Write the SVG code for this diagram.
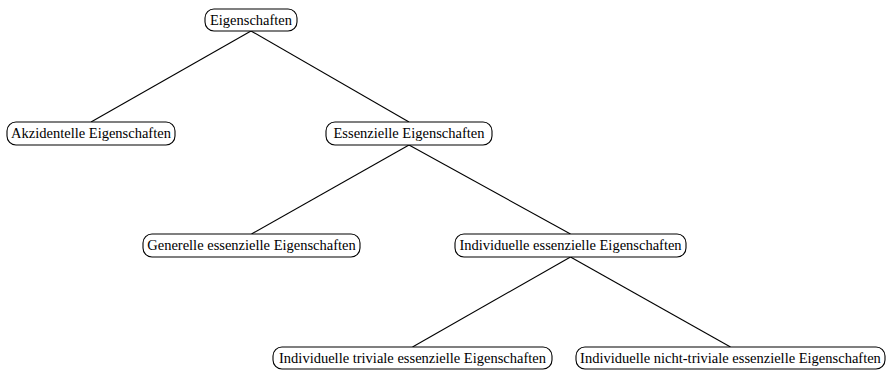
<svg xmlns="http://www.w3.org/2000/svg" width="886" height="371" viewBox="0 0 886 371">
<style>
.box{fill:#fff;stroke:#000;stroke-width:1.1}
.lbl{font-family:"Liberation Serif","Times New Roman",serif;font-size:14.5px;fill:#000;text-anchor:middle}
.edge{stroke:#000;stroke-width:1.1;fill:none}
</style>
<rect width="886" height="371" fill="#fff"/>
<g id="connectors">
<line class="edge" x1="251" y1="31" x2="91" y2="122"/>
<line class="edge" x1="251" y1="31" x2="409" y2="122"/>
<line class="edge" x1="409" y1="145" x2="251.5" y2="234"/>
<line class="edge" x1="409" y1="145" x2="570.5" y2="234"/>
<line class="edge" x1="570.5" y1="257" x2="412.5" y2="347"/>
<line class="edge" x1="570.5" y1="257" x2="730.5" y2="347"/>
</g>
<g id="n-eigenschaften">
<rect class="box" x="205" y="9" width="92" height="22" rx="9"/>
<text class="lbl" x="251" y="24.5">Eigenschaften</text>
</g>
<g id="n-akzidentelle">
<rect class="box" x="7" y="122" width="168" height="23" rx="9"/>
<text class="lbl" x="91" y="138">Akzidentelle Eigenschaften</text>
</g>
<g id="n-essenzielle">
<rect class="box" x="326" y="122" width="166" height="23" rx="9"/>
<text class="lbl" x="409" y="138">Essenzielle Eigenschaften</text>
</g>
<g id="n-generelle">
<rect class="box" x="143" y="234" width="217" height="23" rx="9"/>
<text class="lbl" x="251.5" y="250">Generelle essenzielle Eigenschaften</text>
</g>
<g id="n-individuelle">
<rect class="box" x="455" y="234" width="231" height="23" rx="9"/>
<text class="lbl" x="570.5" y="250">Individuelle essenzielle Eigenschaften</text>
</g>
<g id="n-trivial">
<rect class="box" x="273" y="347" width="279" height="22" rx="9"/>
<text class="lbl" x="412.5" y="362.5">Individuelle triviale essenzielle Eigenschaften</text>
</g>
<g id="n-nichttrivial">
<rect class="box" x="576" y="347" width="309" height="22" rx="9"/>
<text class="lbl" x="730.5" y="362.5">Individuelle nicht-triviale essenzielle Eigenschaften</text>
</g>
</svg>
